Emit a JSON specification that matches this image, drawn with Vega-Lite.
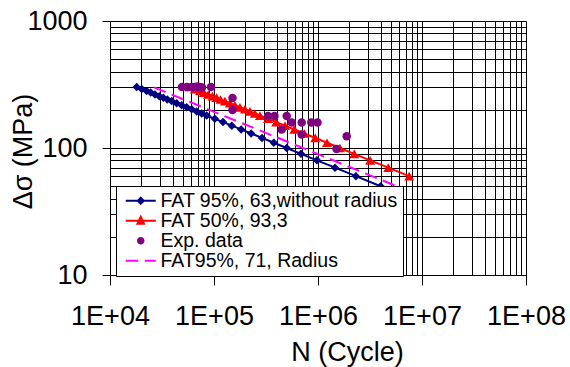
{
  "$schema": "https://vega.github.io/schema/vega-lite/v6.json",
  "width": 416,
  "height": 254,
  "autosize": {"type": "none"},
  "padding": {"left": 110, "top": 21, "right": 44, "bottom": 92},
  "background": "white",
  "config": {"view": {"stroke": null}, "font": "Liberation Sans"},
  "data": {"values": [
    {"series": "FAT 95%, 63,without radius", "N": 18060, "S": 302},
    {"series": "FAT 95%, 63,without radius", "N": 20170, "S": 291},
    {"series": "FAT 95%, 63,without radius", "N": 22540, "S": 281},
    {"series": "FAT 95%, 63,without radius", "N": 24620, "S": 273},
    {"series": "FAT 95%, 63,without radius", "N": 27080, "S": 264},
    {"series": "FAT 95%, 63,without radius", "N": 29790, "S": 256},
    {"series": "FAT 95%, 63,without radius", "N": 32540, "S": 249},
    {"series": "FAT 95%, 63,without radius", "N": 35560, "S": 241},
    {"series": "FAT 95%, 63,without radius", "N": 39210, "S": 234},
    {"series": "FAT 95%, 63,without radius", "N": 43780, "S": 225},
    {"series": "FAT 95%, 63,without radius", "N": 48920, "S": 217},
    {"series": "FAT 95%, 63,without radius", "N": 54650, "S": 209},
    {"series": "FAT 95%, 63,without radius", "N": 61060, "S": 202},
    {"series": "FAT 95%, 63,without radius", "N": 68180, "S": 194},
    {"series": "FAT 95%, 63,without radius", "N": 76150, "S": 187},
    {"series": "FAT 95%, 63,without radius", "N": 85070, "S": 180},
    {"series": "FAT 95%, 63,without radius", "N": 101790, "S": 170},
    {"series": "FAT 95%, 63,without radius", "N": 122094, "S": 160},
    {"series": "FAT 95%, 63,without radius", "N": 148176, "S": 150},
    {"series": "FAT 95%, 63,without radius", "N": 182250, "S": 140},
    {"series": "FAT 95%, 63,without radius", "N": 227620, "S": 130},
    {"series": "FAT 95%, 63,without radius", "N": 289406, "S": 120},
    {"series": "FAT 95%, 63,without radius", "N": 375725, "S": 110},
    {"series": "FAT 95%, 63,without radius", "N": 500094, "S": 100},
    {"series": "FAT 95%, 63,without radius", "N": 686000, "S": 90},
    {"series": "FAT 95%, 63,without radius", "N": 976740, "S": 80},
    {"series": "FAT 95%, 63,without radius", "N": 1458000, "S": 70},
    {"series": "FAT 95%, 63,without radius", "N": 2315250, "S": 60},
    {"series": "FAT 95%, 63,without radius", "N": 4000752, "S": 50},
    {"series": "FAT 50%, 93,3", "N": 58660, "S": 302},
    {"series": "FAT 50%, 93,3", "N": 65510, "S": 291},
    {"series": "FAT 50%, 93,3", "N": 73210, "S": 281},
    {"series": "FAT 50%, 93,3", "N": 79970, "S": 273},
    {"series": "FAT 50%, 93,3", "N": 87960, "S": 264},
    {"series": "FAT 50%, 93,3", "N": 96760, "S": 256},
    {"series": "FAT 50%, 93,3", "N": 105690, "S": 249},
    {"series": "FAT 50%, 93,3", "N": 115500, "S": 241},
    {"series": "FAT 50%, 93,3", "N": 127360, "S": 234},
    {"series": "FAT 50%, 93,3", "N": 142200, "S": 225},
    {"series": "FAT 50%, 93,3", "N": 158900, "S": 217},
    {"series": "FAT 50%, 93,3", "N": 177510, "S": 209},
    {"series": "FAT 50%, 93,3", "N": 198330, "S": 202},
    {"series": "FAT 50%, 93,3", "N": 221460, "S": 194},
    {"series": "FAT 50%, 93,3", "N": 247340, "S": 187},
    {"series": "FAT 50%, 93,3", "N": 276320, "S": 180},
    {"series": "FAT 50%, 93,3", "N": 330620, "S": 170},
    {"series": "FAT 50%, 93,3", "N": 396570, "S": 160},
    {"series": "FAT 50%, 93,3", "N": 481290, "S": 150},
    {"series": "FAT 50%, 93,3", "N": 591970, "S": 140},
    {"series": "FAT 50%, 93,3", "N": 739330, "S": 130},
    {"series": "FAT 50%, 93,3", "N": 940020, "S": 120},
    {"series": "FAT 50%, 93,3", "N": 1220390, "S": 110},
    {"series": "FAT 50%, 93,3", "N": 1624350, "S": 100},
    {"series": "FAT 50%, 93,3", "N": 2228200, "S": 90},
    {"series": "FAT 50%, 93,3", "N": 3172550, "S": 80},
    {"series": "FAT 50%, 93,3", "N": 4735700, "S": 70},
    {"series": "FAT 50%, 93,3", "N": 7520200, "S": 60},
    {"series": "Exp. data", "N": 49250, "S": 302},
    {"series": "Exp. data", "N": 55010, "S": 302},
    {"series": "Exp. data", "N": 61430, "S": 302},
    {"series": "Exp. data", "N": 65660, "S": 302},
    {"series": "Exp. data", "N": 69400, "S": 305},
    {"series": "Exp. data", "N": 73350, "S": 302},
    {"series": "Exp. data", "N": 76650, "S": 300},
    {"series": "Exp. data", "N": 93580, "S": 302},
    {"series": "Exp. data", "N": 150600, "S": 248},
    {"series": "Exp. data", "N": 150600, "S": 199},
    {"series": "Exp. data", "N": 330500, "S": 179},
    {"series": "Exp. data", "N": 381700, "S": 179},
    {"series": "Exp. data", "N": 500000, "S": 179},
    {"series": "Exp. data", "N": 447700, "S": 140},
    {"series": "Exp. data", "N": 558600, "S": 159},
    {"series": "Exp. data", "N": 697000, "S": 159},
    {"series": "Exp. data", "N": 862000, "S": 159},
    {"series": "Exp. data", "N": 989000, "S": 159},
    {"series": "Exp. data", "N": 697000, "S": 128},
    {"series": "Exp. data", "N": 1888000, "S": 124},
    {"series": "Exp. data", "N": 1506000, "S": 98},
    {"series": "FAT95%, 71, Radius", "N": 26512, "S": 300},
    {"series": "FAT95%, 71, Radius", "N": 5726576, "S": 50}
  ]},
  "encoding": {
    "x": {
      "field": "N", "type": "quantitative",
      "scale": {"type": "log", "domain": [10000, 100000000], "nice": false},
      "axis": {
        "title": "N (Cycle)",
        "values": [10000,20000,30000,40000,50000,60000,70000,80000,90000,100000,200000,300000,400000,500000,600000,700000,800000,900000,1000000,2000000,3000000,4000000,5000000,6000000,7000000,8000000,9000000,10000000,20000000,30000000,40000000,50000000,60000000,70000000,80000000,90000000,100000000],
        "labelExpr": "abs(log(datum.value)/LN10 - round(log(datum.value)/LN10)) < 0.001 ? '1E+0' + round(log(datum.value)/LN10) : ''",
        "labelOverlap": false, "labelFlush": false, "labelBound": false,
        "labelFont": "Liberation Sans", "labelFontSize": 27, "labelColor": "black", "labelPadding": 18,
        "tickSize": 10, "tickColor": "black",
        "tickOpacity": {"condition": {"test": "abs(log(datum.value)/LN10 - round(log(datum.value)/LN10)) > 0.001", "value": 0}, "value": 1},
        "domainColor": "black",
        "grid": true, "gridColor": "black", "gridOpacity": 1, "gridWidth": 1,
        "titleFont": "Liberation Sans", "titleFontSize": 27, "titleFontWeight": "normal", "titleColor": "black",
        "titleX": 237, "titleY": 85, "titleBaseline": "alphabetic", "titleAlign": "center"
      }
    },
    "y": {
      "field": "S", "type": "quantitative",
      "scale": {"type": "log", "domain": [10, 1000], "nice": false},
      "axis": {
        "title": "Δσ (MPa)",
        "values": [10,20,30,40,50,60,70,80,90,100,200,300,400,500,600,700,800,900,1000],
        "labelExpr": "abs(log(datum.value)/LN10 - round(log(datum.value)/LN10)) < 0.001 ? '' + round(datum.value) : ''",
        "labelOverlap": false, "labelFlush": false, "labelBound": false,
        "labelFont": "Liberation Sans", "labelFontSize": 27, "labelColor": "black", "labelPadding": 15,
        "tickSize": 8, "tickColor": "black",
        "tickOpacity": {"condition": {"test": "abs(log(datum.value)/LN10 - round(log(datum.value)/LN10)) > 0.001", "value": 0}, "value": 1},
        "domainColor": "black",
        "grid": true, "gridColor": "black", "gridOpacity": 1, "gridWidth": 1,
        "titleFont": "Liberation Sans", "titleFontSize": 27, "titleFontWeight": "normal", "titleColor": "black",
        "titleX": -78.5, "titleY": 130, "titleAngle": -90, "titleBaseline": "alphabetic", "titleAlign": "center"
      }
    },
    "color": {
      "field": "series", "type": "nominal",
      "scale": {
        "domain": ["FAT 95%, 63,without radius", "FAT 50%, 93,3", "Exp. data", "FAT95%, 71, Radius"],
        "range": ["#000080", "#FF0000", "#800080", "#FF00FF"]
      },
      "legend": {
        "orient": "none", "legendX": 6, "legendY": 165, "direction": "vertical",
        "title": null, "fillColor": "white", "strokeColor": "black", "padding": 5,
        "labelFont": "Liberation Sans", "labelFontSize": 19.5, "labelColor": "black",
        "labelOffset": 20, "labelLimit": 400, "symbolSize": 100, "rowPadding": -2.2,
        "encode": {
          "symbols": {
            "update": {
              "shape": {"signal": "datum.value === 'FAT 95%, 63,without radius' ? 'M-1,0H5M2,-0.6L2.6,0L2,0.6L1.4,0Z' : datum.value === 'FAT 50%, 93,3' ? 'M-1,0H5M2,-0.8L2.65,0.6L1.35,0.6Z' : datum.value === 'Exp. data' ? 'M2.75,0A0.75,0.75 0 1,1 1.25,0A0.75,0.75 0 1,1 2.75,0Z' : 'M-1,0H5'"},
              "stroke": {"signal": "datum.value === 'FAT 95%, 63,without radius' ? '#000080' : datum.value === 'FAT 50%, 93,3' ? '#FF0000' : datum.value === 'Exp. data' ? '#800080' : '#FF00FF'"},
              "fill": {"signal": "datum.value === 'FAT 95%, 63,without radius' ? '#000080' : datum.value === 'FAT 50%, 93,3' ? '#FF0000' : datum.value === 'Exp. data' ? '#800080' : 'transparent'"},
              "strokeWidth": {"signal": "datum.value === 'Exp. data' ? 0 : 2"},
              "strokeDash": {"signal": "datum.value === 'FAT95%, 71, Radius' ? [12.5, 6.5] : [1, 0]"},
              "opacity": {"value": 1},
              "size": {"value": 100}
            }
          }
        }
      }
    }
  },
  "layer": [
    {"transform": [{"filter": "datum.series === 'FAT 95%, 63,without radius'"}], "mark": {"type": "line", "strokeWidth": 2}},
    {"transform": [{"filter": "datum.series === 'FAT 95%, 63,without radius'"}], "mark": {"type": "point", "shape": "diamond", "filled": true, "size": 72, "opacity": 1}},
    {"transform": [{"filter": "datum.series === 'FAT 50%, 93,3'"}], "mark": {"type": "line", "strokeWidth": 2}},
    {"transform": [{"filter": "datum.series === 'FAT 50%, 93,3'"}], "mark": {"type": "point", "shape": "triangle-up", "filled": true, "size": 100, "opacity": 1}},
    {"transform": [{"filter": "datum.series === 'Exp. data'"}], "mark": {"type": "point", "shape": "circle", "filled": true, "size": 72, "opacity": 1}},
    {"transform": [{"filter": "datum.series === 'FAT95%, 71, Radius'"}], "mark": {"type": "line", "strokeWidth": 2, "strokeDash": [12.5, 6.5]}}
  ]
}
